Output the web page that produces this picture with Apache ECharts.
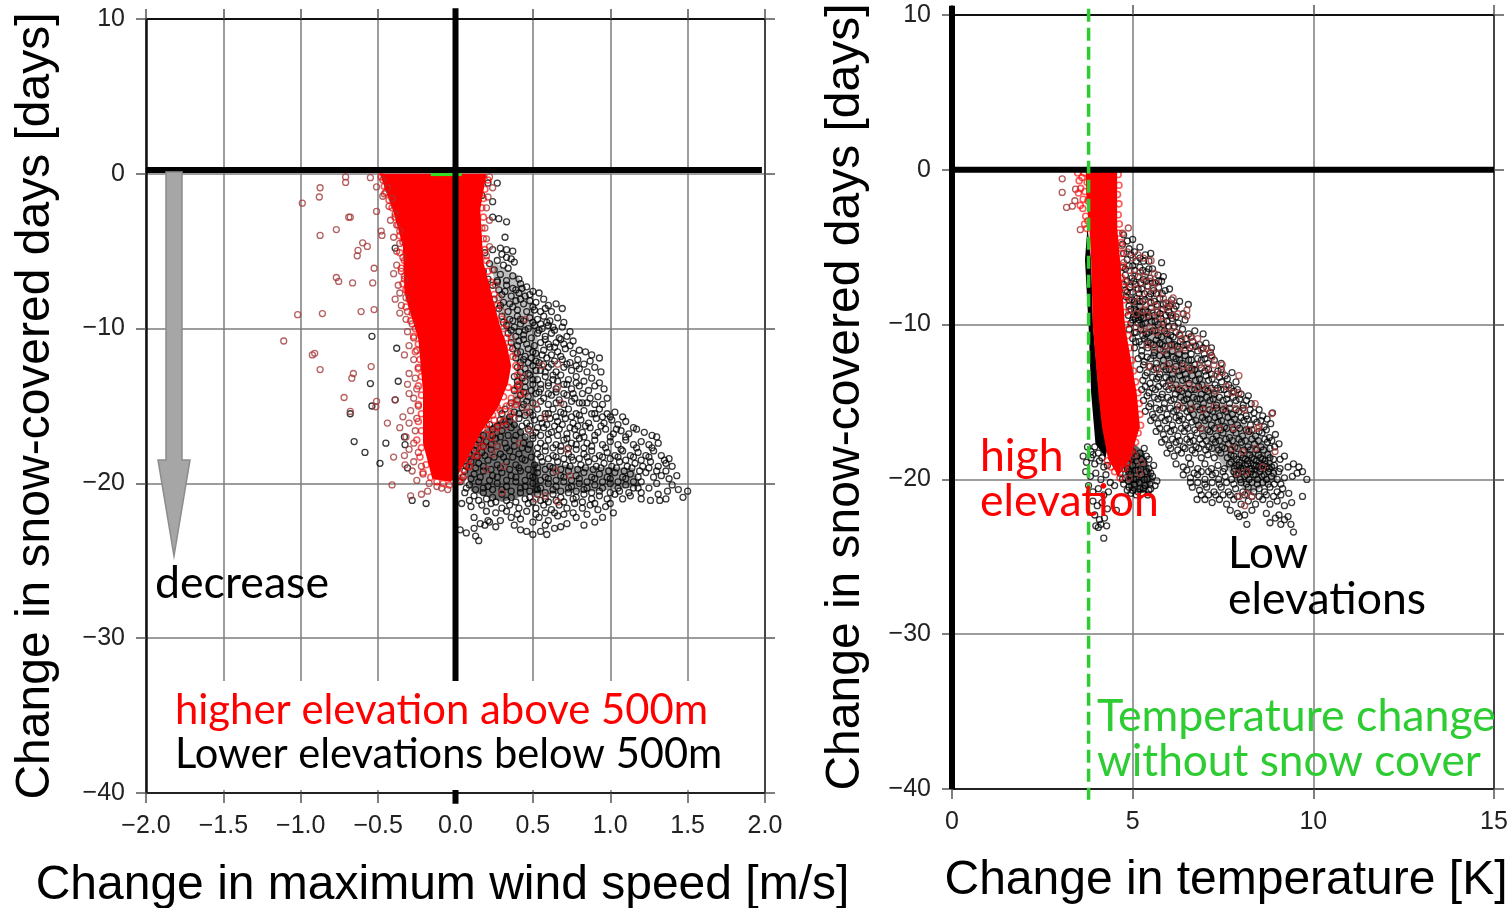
<!DOCTYPE html>
<html><head><meta charset="utf-8">
<style>html,body{margin:0;padding:0;background:#fff}#c{width:1512px;height:908px}</style>
<script src="https://cdn.jsdelivr.net/npm/echarts@6/dist/echarts.min.js"></script>
</head><body><div id="c"></div>
<script>
// flat lists: x,y,x,y,...
const windLowElev = [
.13,-.9,.15,-1.2,.12,-1.5,.17,-1.4,.21,-.6,.24,-1.8,.27,-.6,.33,-3.1,.24,-2.8,.28,-2.9,.32,-4.1,.37,-5.0,.29,-4.8,.33,-4.9,
.19,-5.1,.24,-4.9,.3,-5.2,.33,-5.4,.36,-5.5,.27,-5.6,.22,-5.8,.31,-5.9,.38,-5.7,.18,-6.3,.25,-6.2,.29,-6.5,.34,-6.1,.37,-6.6,.41,-6.8,.21,-6.8,.27,-6.9,.33,-6.9,
.24,-7.2,.28,-7.5,.33,-7.2,.37,-7.4,.42,-7.1,.46,-7.3,.5,-7.6,.54,-7.7,.3,-7.8,.36,-7.9,.41,-7.7,.45,-7.9,.25,-8.1,.31,-8.3,.35,-8.4,.39,-8.2,.44,-8.4,.48,-8.2,.52,-8.3,.57,-8.1,.6,-8.5,.65,-8.4,.69,-8.7,.28,-8.7,.34,-8.9,.4,-8.8,.46,-8.9,.51,-8.8,.55,-8.9,.62,-8.9,
.3,-9.2,.35,-9.4,.4,-9.2,.44,-9.5,.48,-9.3,.53,-9.4,.57,-9.2,.61,-9.5,.66,-9.3,.7,-9.6,.33,-9.8,.38,-9.9,.42,-9.7,.47,-10,.51,-9.8,.56,-10,.6,-9.8,.64,-10.1,.69,-9.9,.74,-10.2,.34,-10.3,.39,-10.5,.44,-10.4,.49,-10.6,.53,-10.3,.58,-10.5,.62,-10.3,.67,-10.6,.72,-10.5,.76,-10.8,.36,-10.9,.41,-10.8,.46,-11,.55,-10.9,.6,-11,.65,-10.9,.7,-11,.74,-11.1,
.37,-11.3,.42,-11.5,.47,-11.3,.52,-11.6,.57,-11.4,.61,-11.2,.66,-11.5,.71,-11.3,.76,-11.6,.8,-11.4,.84,-11.5,.88,-11.7,.93,-11.9,.39,-11.9,.44,-12,.49,-11.9,.54,-12.2,.59,-11.9,.64,-12.1,.69,-12,.74,-12.2,.79,-12,.83,-12.3,.87,-12.1,.4,-12.5,.45,-12.6,.5,-12.4,.55,-12.7,.6,-12.5,.65,-12.8,.7,-12.5,.75,-12.7,.8,-12.6,.85,-12.8,.9,-12.5,.94,-12.8,
.38,-13.1,.43,-13.2,.48,-13,.53,-13.3,.58,-13.1,.63,-13.3,.68,-13,.73,-13.3,.78,-13.1,.83,-13.4,.88,-13.2,.93,-13.5,.96,-13.9,.4,-13.7,.45,-13.8,.5,-13.6,.55,-13.9,.6,-13.7,.65,-13.9,.7,-13.6,.75,-13.9,.8,-13.7,.86,-14,.9,-13.7,.42,-14.3,.47,-14.4,.52,-14.2,.57,-14.5,.62,-14.3,.67,-14.6,.72,-14.3,.77,-14.5,.82,-14.2,.87,-14.5,.92,-14.4,.98,-14.5,.36,-14.8,.44,-14.9,.5,-14.8,.6,-14.9,.7,-14.9,.8,-14.8,.9,-14.9,
.32,-15.2,.38,-15.4,.43,-15.1,.48,-15.4,.53,-15.2,.58,-15.5,.63,-15.2,.68,-15.4,.73,-15.2,.78,-15.5,.83,-15.3,.88,-15.5,.93,-15.2,.98,-15.5,1.03,-15.4,1.08,-15.7,.29,-15.9,.35,-16,.41,-15.8,.46,-16.1,.51,-15.9,.56,-16.1,.61,-15.8,.66,-16,.71,-15.8,.76,-16.1,.81,-15.9,.86,-16.1,.91,-15.8,.96,-16.1,1.01,-15.9,1.05,-16.2,1.1,-16,
.24,-16.5,.3,-16.6,.36,-16.4,.42,-16.7,.47,-16.5,.52,-16.7,.57,-16.4,.62,-16.7,.67,-16.5,.72,-16.8,.77,-16.5,.82,-16.7,.87,-16.4,.92,-16.7,.97,-16.5,1.02,-16.8,1.07,-16.6,1.12,-16.8,1.17,-16.5,1.22,-16.7,1.27,-16.9,1.3,-17,
.15,-17.2,.2,-17.3,.26,-17.1,.32,-17.4,.38,-17.2,.44,-17.4,.5,-17.1,.55,-17.4,.6,-17.2,.65,-17.5,.7,-17.2,.75,-17.4,.8,-17.1,.85,-17.4,.9,-17.2,.95,-17.5,1,-17.3,1.05,-17.5,1.1,-17.2,1.15,-17.5,1.2,-17.3,1.25,-17.5,1.31,-17.4,
.12,-17.9,.17,-18,.23,-17.8,.29,-18.1,.35,-17.9,.41,-18.1,.47,-17.8,.53,-18.1,.58,-17.9,.63,-18.2,.68,-17.9,.73,-18.1,.78,-17.8,.83,-18.1,.88,-17.9,.93,-18.2,.98,-18,1.03,-18.2,1.08,-17.9,1.13,-18.2,1.18,-18,1.23,-18.2,1.28,-17.9,1.33,-18.2,1.38,-18.4,
.1,-18.6,.15,-18.7,.21,-18.5,.27,-18.8,.33,-18.6,.39,-18.8,.45,-18.5,.51,-18.8,.56,-18.6,.61,-18.9,.66,-18.6,.71,-18.8,.76,-18.5,.81,-18.8,.86,-18.6,.91,-18.9,.96,-18.7,1.01,-18.9,1.06,-18.6,1.11,-18.9,1.16,-18.7,1.21,-18.9,1.26,-18.6,1.31,-18.9,1.36,-18.7,1.4,-18.9,
.06,-19.2,.12,-19.4,.18,-19.2,.24,-19.5,.3,-19.3,.36,-19.5,.42,-19.2,.48,-19.5,.53,-19.3,.58,-19.6,.63,-19.3,.68,-19.5,.73,-19.2,.78,-19.5,.83,-19.3,.88,-19.6,.93,-19.4,.98,-19.6,1.03,-19.3,1.08,-19.6,1.13,-19.4,1.18,-19.6,1.23,-19.3,1.28,-19.6,1.33,-19.5,1.38,-19.7,1.43,-19.5,
.03,-19.9,.09,-20.1,.15,-19.9,.21,-20.2,.27,-20,.33,-20.2,.39,-19.9,.45,-20.2,.5,-20,.55,-20.3,.6,-20,.65,-20.2,.7,-19.9,.75,-20.2,.8,-20,.85,-20.3,.9,-20.1,.95,-20.3,1,-20,1.05,-20.3,1.1,-20.1,1.15,-20.3,1.2,-20.6,1.25,-20.3,1.31,-20.7,1.37,-20.5,1.44,-20.4,1.5,-20.5,1.47,-20.9,
.06,-20.6,.12,-20.8,.18,-20.6,.24,-20.9,.3,-20.7,.36,-20.9,.42,-20.6,.48,-20.9,.53,-20.7,.58,-21,.63,-20.7,.68,-20.9,.73,-20.6,.78,-20.9,.83,-20.7,.88,-21,.93,-20.8,.98,-21,1.03,-20.7,1.08,-21,1.13,-20.8,1.2,-21,1.26,-21.1,1.32,-21.1,1.36,-21,
.04,-21.3,.1,-21.5,.17,-21.4,.23,-21.3,.3,-21.6,.35,-21.4,.41,-21.6,.47,-21.3,.52,-21.6,.57,-21.4,.62,-21.7,.67,-21.4,.72,-21.6,.77,-21.3,.82,-21.6,.87,-21.4,.92,-21.7,.97,-21.5,1.02,-21.9,
.12,-22.2,.16,-22.6,.21,-22.4,.26,-22.8,.29,-22.4,.36,-22.2,.42,-22.3,.5,-22.5,.54,-22.2,.6,-22.4,.66,-22.1,.72,-22.6,.78,-22.2,.83,-22.7,.9,-22.5,.12,-22.9,.19,-22.7,.22,-22.5,
.03,-23,.07,-23.2,.13,-23.4,.15,-23.7,.42,-23,.46,-23.1,.5,-23.3,.55,-23.1,.59,-23.3,.64,-22.9,
-.54,-10.5,-.38,-11.27,-.55,-13.55,-.37,-13.4,-.39,-14.6,-.54,-15,-.68,-15.5,-.655,-17.3,-.45,-17.4,-.585,-18,-.488,-18.7,-.326,-17.5,-.33,-17,-.31,-19,-.28,-21.1,-.19,-21.3,-.39,-4.8
];
const windLowElevDense = [
.27,-7,.32,-7.6,.39,-7.5,.43,-7.4,.48,-7.8,.29,-8.5,.37,-8.6,.42,-8.1,.5,-8.6,.58,-8.7,.31,-9.6,.37,-9.5,.42,-9.4,.5,-9.6,.55,-9.7,.59,-9.6,.36,-10.1,.41,-10.2,.45,-10.1,.54,-10.1,.63,-9.9,.4,-11.1,.44,-10.7,.51,-11.1,.58,-10.7,.64,-11.2,.68,-10.7,.4,-11.6,.45,-11.8,.5,-11.5,.56,-11.7,.62,-11.7,.68,-11.8,.42,-12.2,.47,-12.2,.52,-12.1,.57,-12.3,.62,-12.3,.72,-12.3,.78,-12.4,.42,-12.8,.47,-12.9,.52,-12.7,.58,-12.8,.63,-13,.4,-13.4,.45,-13.4,.5,-13.3,.55,-13.6,.6,-13.5,.66,-13.4,.72,-13.6,.78,-13.5,.38,-14,.44,-14.1,.49,-14,.54,-14.1,.6,-14.2,.65,-14.1,.7,-14.2,.76,-14.2,.82,-14.8,.4,-14.6,.46,-14.7,.55,-14.7,.65,-14.8,.75,-14.7,.85,-14.8,.95,-14.9,
.3,-15.5,.35,-15.7,.41,-15.5,.45,-15.6,.5,-15.6,.55,-15.8,.6,-15.5,.65,-15.7,.7,-15.5,.75,-15.7,.8,-15.6,.9,-15.5,.95,-15.7,1,-15.7,.22,-16.2,.27,-16.3,.33,-16.2,.38,-16.2,.43,-16.3,.48,-16.3,.53,-16.4,.59,-16.2,.64,-16.3,.69,-16.2,.74,-16.4,.79,-16.3,.84,-16.3,.94,-16.3,1.04,-16.5,1.15,-16.4,.18,-16.9,.24,-16.9,.29,-17,.34,-16.9,.39,-16.9,.45,-17,.5,-16.9,.55,-16.9,.6,-16.8,.66,-16.9,.72,-17.1,.78,-16.9,.83,-17,.9,-16.9,1,-17,1.1,-17,.13,-17.5,.18,-17.6,.23,-17.5,.27,-17.6,.33,-17.7,.38,-17.6,.43,-17.7,.48,-17.5,.53,-17.7,.58,-17.6,.63,-17.7,.68,-17.6,.73,-17.7,.78,-17.5,.83,-17.7,.88,-17.6,.97,-17.7,1.07,-17.8,1.17,-17.7,1.27,-17.7,
.09,-18.1,.14,-18.3,.19,-18.2,.25,-18.3,.31,-18.3,.37,-18.3,.43,-18.4,.49,-18.3,.55,-18.3,.6,-18.4,.65,-18.3,.7,-18.4,.75,-18.3,.8,-18.4,.85,-18.3,.9,-18.4,.95,-18.3,1,-18.4,1.05,-18.3,1.1,-18.5,1.15,-18.3,1.2,-18.5,1.25,-18.3,1.35,-18.5,
.07,-18.9,.13,-19,.18,-18.9,.23,-19.1,.29,-19,.35,-19.1,.41,-19,.47,-19.1,.53,-19,.58,-19.1,.63,-19,.68,-19.1,.74,-18.9,.79,-19.1,.84,-19,.89,-19.1,.94,-19,.99,-19.2,1.04,-19,1.09,-19.2,1.14,-19,1.19,-19.2,1.25,-19,1.3,-19.2,1.36,-19.2,
.05,-19.6,.1,-19.7,.16,-19.6,.22,-19.8,.27,-19.6,.33,-19.8,.39,-19.6,.45,-19.8,.5,-19.6,.55,-19.8,.6,-19.7,.65,-19.8,.7,-19.6,.75,-19.8,.8,-19.7,.85,-19.9,.9,-19.7,.95,-19.9,1,-19.7,1.05,-19.9,1.1,-19.7,1.15,-19.9,1.2,-19.9,1.3,-20,1.4,-20.1,
.07,-20.3,.13,-20.4,.18,-20.3,.24,-20.4,.3,-20.4,.36,-20.5,.42,-20.3,.48,-20.5,.53,-20.4,.58,-20.6,.63,-20.4,.68,-20.5,.73,-20.3,.78,-20.5,.83,-20.4,.88,-20.6,.93,-20.5,1,-20.6,1.06,-20.5,1.12,-20.6,1.18,-20.3,
.09,-21.1,.15,-21.1,.2,-21,.26,-21.2,.33,-21.1,.39,-21.2,.45,-21,.5,-21.2,.55,-21.1,.6,-21.2,.65,-21.1,.7,-21.2,.76,-21,.82,-21.2,.9,-21.3,1,-21.3,.2,-21.8,.26,-21.9,.33,-21.8,.4,-22,.46,-21.8,.52,-22,.58,-21.9,.64,-21.9,.7,-22,.76,-21.9,.85,-22,.95,-22.2,.58,-22.7,.68,-22.8,.38,-22.7
];
const windRedEdge = [
-.48,-.2,-.46,-.8,-.45,-1.2,-.43,-1.7,-.41,-2.2,-.39,-2.8,-.37,-3.3,-.36,-4,-.34,-4.4,-.36,-5.1,-.33,-5.6,-.35,-6.1,-.33,-6.6,-.34,-7.1,-.32,-7.5,-.3,-8.1,-.32,-8.6,-.28,-9,-.29,-9.5,-.26,-10,-.27,-10.5,-.24,-11,-.26,-11.5,-.23,-12,-.24,-12.6,-.22,-13.1,-.24,-13.7,-.22,-14.3,-.24,-14.9,-.22,-15.5,-.24,-16,-.22,-16.6,-.25,-17.2,-.22,-17.7,-.23,-18.3,-.19,-18.8,-.21,-19.3,-.16,-19.6,-.12,-19.9,-.08,-20,-.04,-20.1,.02,-19.8,
.21,-.4,.19,-1,.18,-1.6,.17,-2.2,.18,-2.8,.17,-3.5,.18,-4.2,.19,-4.9,.2,-5.6,.21,-6.3,.23,-7,.25,-7.8,.27,-8.5,.3,-9.4,.31,-10,.33,-10.6,.35,-11.2,.37,-11.8,.39,-12.4,.4,-13,.41,-13.6,.38,-13.9,.42,-14.2,.36,-14.5,.39,-14.9,.33,-15,.36,-15.5,.29,-15.3,.31,-16,.25,-15.9,.27,-16.4,.21,-16.5,.23,-17,.16,-17.1,.18,-17.6,.13,-17.7,.14,-18.2,.09,-18.4,.09,-18.9,.05,-19.1,.04,-19.6,
.34,-13.8,.31,-14.4,.27,-15.1,.24,-15.6,.2,-16.2
];
const windHighElev = [
-.71,-.2,-.71,-.56,-.875,-.9,-.88,-1.5,-.99,-1.9,-.55,-.25,-.51,-.85,-.47,-1.45,-.69,-2.8,-.68,-2.8,-.51,-2.43,-.77,-3.6,-.875,-3.98,-.48,-3.7,-.475,-3.98,-.6,-4.46,-.57,-4.69,-.63,-4.95,-.635,-5.3,-.526,-6.1,-.77,-6.7,-.755,-6.95,-.665,-7.05,-.535,-7.05,-.4,-6.45,-1.02,-9.1,-.86,-9.03,-.61,-8.9,-.526,-8.77,-1.11,-10.8,-.925,-11.7,-.91,-11.6,-.875,-12.65,-.66,-12.9,-.67,-13.2,-.545,-12.45,-.72,-14.45,-.51,-14.7,-.515,-15.05,-.68,-15.35,-.39,-14.6,-.44,-16.1,-.4,-18.3,-.326,-18.8,-.41,-20.1,-.29,-20.8,
-.47,-.4,-.44,-.9,-.46,-1.3,-.41,-1.6,-.43,-2.1,-.39,-2.6,-.42,-3,-.38,-3.3,-.36,-3.7,-.4,-4.1,-.36,-4.5,-.38,-5,-.34,-5.4,-.38,-5.9,-.35,-6.3,-.33,-6.8,-.37,-7.2,-.36,-7.7,-.32,-8,-.39,-8.1,-.35,-8.5,-.31,-8.9,-.36,-9,-.32,-9.4,-.28,-9.7,-.31,-10.2,-.27,-10.6,-.3,-11.1,-.25,-11.4,-.33,-11.7,-.27,-12,-.24,-12.5,-.3,-12.9,-.26,-13.2,-.31,-13.6,-.25,-13.9,-.3,-14.2,-.27,-14.5,-.24,-15,-.29,-15.3,-.34,-15.7,-.25,-15.8,-.3,-16.1,-.36,-16.4,-.26,-16.6,-.32,-17,-.27,-17.4,-.3,-17.8,-.24,-18,-.33,-18.2,-.27,-18.6,-.22,-18.9,-.28,-19.2,-.21,-19.4,-.25,-19.8,-.17,-20,-.12,-20.2,-.18,-20.5,-.22,-20.7,-.09,-20.3,-.05,-20.4,
.22,-.2,.24,-.9,.21,-1.5,.2,-2.2,.22,-3,.19,-3.5,.2,-4.2,.22,-4.7,.2,-5.3,.24,-6.2,.26,-7.2,.28,-8,.3,-8.9,.33,-9.7,.36,-10.6,.39,-11.6,.42,-12.4,.44,-13.1,.41,-13.7,.45,-14.2,.4,-14.7,.35,-15,.46,-15.1,.38,-15.8,.3,-15.6,.33,-16.3,.26,-16.6,.2,-16.9,.24,-17.4,.16,-17.6,.13,-18.2,.09,-18.9,.06,-19.5,.04,-19.8,
.46,-15.4,.52,-14.9,.58,-15.7,.66,-13.8,.68,-14.8,.56,-12.4,.66,-12.3,.45,-9.4,.31,-18.9,.27,-17.6,.41,-17.4,.48,-16.6,.72,-17.8,.65,-19.2,.52,-21,.74,-19.5,.3,-20.6,.2,-19.1,.24,-18.1,.58,-20.8,.66,-21.2
];
const tempLowElev = [
4.75,-4.2,4.85,-4.6,5,-4.5,4.9,-5.1,5.05,-5.3,4.75,-5.4,5.2,-5,5.35,-5.5,5.5,-5.4,4.85,-5.8,5.1,-5.9,5.3,-5.9,5.45,-5.9,5.8,-6,
4.72,-6.3,4.9,-6.2,5.05,-6.5,5.2,-6.3,5.38,-6.6,5.55,-6.4,5.7,-6.8,5.85,-6.9,4.8,-6.8,4.98,-7,5.15,-6.9,5.3,-7.1,5.48,-7,5.62,-7.3,5.8,-7.2,4.75,-7.4,4.92,-7.6,5.08,-7.4,5.25,-7.7,5.42,-7.5,5.58,-7.8,5.72,-7.6,5.9,-7.8,6.02,-7.7,4.85,-7.9,5.18,-8,
4.82,-8.2,4.98,-8.4,5.12,-8.3,5.28,-8.5,5.45,-8.2,5.6,-8.5,5.75,-8.3,5.92,-8.6,6.08,-8.4,6.3,-8.5,6.54,-8.7,4.9,-8.8,5.05,-9,5.2,-8.8,5.35,-9.1,5.52,-8.9,5.68,-9.2,5.84,-9,6,-9.2,6.15,-9,6.4,-9.3,4.88,-9.4,5.02,-9.5,5.13,-9.4,5.22,-9.5,5.08,-9.6,5.3,-9.6,5.45,-9.5,5.62,-9.8,5.78,-9.6,5.95,-9.8,6.1,-9.6,6.26,-9.9,6.45,-9.7,4.95,-9.9,5.15,-9.9,5.25,-10,
4.9,-10.3,5.05,-10.5,5.22,-10.3,5.38,-10.6,5.55,-10.4,5.7,-10.7,5.88,-10.4,6.05,-10.7,6.2,-10.5,6.38,-10.3,6.55,-10.6,6.72,-10.4,6.95,-10.6,5,-10.9,5.18,-11.1,5.33,-10.9,5.5,-11.2,5.65,-11,5.82,-11.3,6,-11,6.16,-11.3,6.32,-11.1,6.5,-11.3,6.66,-11.1,6.85,-11.3,7.03,-11.2,7.18,-11.5,5.05,-11.5,5.25,-11.7,5.42,-11.5,5.6,-11.8,5.76,-11.6,5.94,-11.9,6.1,-11.7,6.28,-11.9,6.45,-11.7,6.62,-11.9,6.8,-11.7,6.98,-11.9,7.15,-11.8,
5.15,-12.2,5.32,-12.4,5.5,-12.2,5.66,-12.5,5.85,-12.3,6.02,-12.5,6.2,-12.2,6.37,-12.5,6.55,-12.3,6.72,-12.6,6.9,-12.3,7.08,-12.5,7.26,-12.3,7.45,-12.5,5.2,-12.9,5.4,-13.1,5.58,-12.9,5.75,-13.2,5.92,-12.9,6.1,-13.2,6.28,-13,6.46,-13.2,6.64,-12.9,6.82,-13.2,7,-13,7.18,-13.2,7.36,-13,7.56,-13.3,7.75,-13.1,5.28,-13.6,5.48,-13.8,5.66,-13.5,5.84,-13.8,6.02,-13.6,6.2,-13.9,6.38,-13.6,6.56,-13.8,6.74,-13.6,6.92,-13.9,7.1,-13.6,7.28,-13.9,7.46,-13.7,7.66,-13.9,7.86,-13.7,
5.25,-14.2,5.45,-14.4,5.63,-14.2,5.82,-14.5,6,-14.2,6.18,-14.5,6.36,-14.3,6.54,-14.5,6.72,-14.2,6.9,-14.5,7.08,-14.3,7.26,-14.5,7.44,-14.2,7.62,-14.5,7.8,-14.3,8,-14.5,8.2,-14.6,5.3,-14.9,5.5,-15.1,5.7,-14.8,5.88,-15.1,6.06,-14.9,6.24,-15.2,6.42,-14.9,6.6,-15.1,6.78,-14.8,6.96,-15.1,7.14,-14.9,7.32,-15.2,7.5,-14.9,7.68,-15.1,7.86,-14.9,8.06,-15.2,8.28,-15.1,5.35,-15.6,5.55,-15.8,5.75,-15.5,5.95,-15.8,6.13,-15.6,6.3,-15.9,6.5,-15.6,6.68,-15.8,6.86,-15.5,7.04,-15.8,7.22,-15.6,7.4,-15.9,7.58,-15.6,7.76,-15.8,7.94,-15.6,8.14,-15.9,8.36,-15.7,8.6,-15.9,8.87,-15.7,
5.5,-16.2,5.7,-16.4,5.9,-16.2,6.1,-16.5,6.28,-16.2,6.46,-16.5,6.64,-16.3,6.82,-16.5,7,-16.2,7.18,-16.5,7.36,-16.3,7.54,-16.6,7.72,-16.3,7.9,-16.5,8.08,-16.2,8.26,-16.5,8.44,-16.3,8.64,-16.6,8.82,-16.4,5.65,-16.9,5.85,-17.1,6.05,-16.9,6.25,-17.2,6.43,-16.9,6.6,-17.2,6.78,-17,6.96,-17.2,7.14,-16.9,7.32,-17.2,7.5,-17,7.68,-17.3,7.86,-17,8.04,-17.2,8.22,-16.9,8.4,-17.2,8.58,-17,8.78,-17.3,8.95,-17.1,5.8,-17.6,6,-17.8,6.2,-17.6,6.4,-17.9,6.58,-17.6,6.75,-17.9,6.93,-17.7,7.11,-17.9,7.29,-17.6,7.47,-17.9,7.65,-17.7,7.83,-17.9,8.01,-17.6,8.19,-17.9,8.37,-17.7,8.55,-17.9,8.73,-17.6,8.93,-17.9,9.05,-17.7,
5.95,-18.3,6.15,-18.5,6.35,-18.3,6.55,-18.6,6.73,-18.3,6.9,-18.6,7.08,-18.4,7.26,-18.6,7.44,-18.3,7.62,-18.6,7.72,-18.4,7.88,-18.7,8,-18.4,8.12,-18.7,8.24,-18.4,8.36,-18.7,8.48,-18.4,8.6,-18.7,8.74,-18.4,8.9,-18.7,9.08,-18.7,9.2,-18.5,6.2,-19,6.4,-19.2,6.6,-19,6.8,-19.3,7,-19,7.18,-19.3,7.36,-19.1,7.54,-19.3,7.68,-19,7.82,-19.3,7.94,-19.1,8.06,-19.3,8.18,-19,8.3,-19.3,8.42,-19.1,8.54,-19.3,8.66,-19,8.78,-19.3,8.92,-19.1,9.08,-19.3,9.3,-19.2,9.45,-19,9.6,-19.2,9.7,-19.5,9.55,-19.6,9.82,-20,
6.4,-19.7,6.6,-19.9,6.8,-19.7,7,-20,7.2,-19.7,7.38,-20,7.56,-19.8,7.74,-20,7.86,-19.7,7.98,-20,8.1,-19.8,8.22,-20,8.34,-19.7,8.46,-20,8.58,-19.8,8.7,-20,8.84,-19.8,9,-20,9.2,-19.9,9.42,-19.8,6.65,-20.5,6.85,-20.7,7.05,-20.5,7.25,-20.8,7.45,-20.5,7.65,-20.8,7.85,-20.6,8.05,-20.8,8.2,-20.5,8.35,-20.8,8.5,-20.6,8.65,-20.8,8.8,-20.5,9,-20.8,9.15,-20.6,9.32,-20.9,9.7,-21.1,6.78,-21.3,7,-21.3,7.2,-21.5,7.4,-21.3,7.6,-21.6,7.8,-21.3,8,-21.6,8.2,-21.4,8.4,-21.6,8.6,-21.3,8.8,-21.6,9,-21.4,9.2,-21.7,9.4,-21.5,
7.7,-22,7.9,-22.2,8.1,-22.3,8.3,-22,8.7,-22.2,8.95,-22.5,9.05,-22.3,9.2,-22.6,9.3,-22.4,9.38,-22.9,9.45,-23.4,8.16,-22.9,7.95,-22.4,8.8,-22.8,9.1,-22.9,
4.6,-18.4,4.75,-18,4.9,-18.6,5,-18.2,5.1,-18.8,5.2,-18.3,5.32,-18,5.45,-18.7,4.7,-19,4.85,-19.3,5,-19.1,5.15,-19.4,5.3,-19,5.45,-19.3,5.58,-19.1,4.65,-19.6,4.8,-19.9,4.95,-19.7,5.1,-20,5.25,-19.7,5.4,-20,5.55,-19.8,5.67,-20.1,4.75,-20.3,4.9,-20.5,5.05,-20.3,5.2,-20.6,5.35,-20.4,5.5,-20.6,5.62,-20.4,4.95,-20.9,5.1,-21,5.28,-20.9,5.42,-21,
3.63,-18.5,3.72,-18.9,3.85,-18.6,3.95,-19,4.08,-18.8,4.2,-19.2,3.7,-19.5,3.83,-19.8,3.98,-19.6,4.12,-20,4.26,-19.7,4.38,-20.2,3.78,-20.4,3.9,-20.8,4.05,-20.6,4.2,-21,4.33,-20.8,4.5,-20.4,3.9,-21.4,4.02,-21.7,4.15,-21.5,4.3,-21.9,4.55,-22,3.95,-22.3,4.08,-22.6,4.22,-22.5,3.98,-23,4.05,-23.1,4.12,-22.9,4.28,-23,4.2,-23.8
];
const tempLowElevDense = [
4.72,-4.8,4.95,-5.5,5.2,-5.7,4.8,-6.4,5,-6.2,5.28,-6.5,5.45,-6.4,4.85,-7.2,5.03,-7.2,5.22,-7.3,5.38,-7.2,5.55,-7.3,5.72,-7.2,4.8,-7.8,5,-7.9,5.15,-7.7,5.32,-8,5.5,-8,5.65,-8,5.82,-8,4.9,-8.4,5.05,-8.5,5.2,-8.5,5.35,-8.4,5.5,-8.6,5.68,-8.7,5.85,-8.7,6.02,-8.8,6.2,-8.8,
4.95,-9,5.1,-9.1,5.15,-9.2,5.28,-9.2,5.42,-9.2,5.6,-9.4,5.76,-9.3,5.92,-9.4,6.05,-9.4,6.2,-9.5,5,-9.7,5.18,-9.7,5.35,-9.9,5.52,-9.8,5.7,-10,5.85,-10,6,-10.1,6.15,-10.1,5.1,-10.5,5.28,-10.7,5.45,-10.5,5.62,-10.4,5.8,-10.8,5.95,-10.6,6.12,-10.8,6.3,-10.7,6.48,-10.9,6.62,-10.8,5.08,-11.1,5.25,-11.3,5.42,-11.1,5.58,-11.3,5.75,-11.2,5.9,-11.4,6.08,-11.3,6.24,-11.4,6.4,-11.3,6.58,-11.5,6.75,-11.4,6.95,-11.5,
5.25,-12,5.4,-12.1,5.58,-12,5.75,-12,5.95,-12,6.12,-12.1,6.3,-12.3,6.45,-12,6.62,-12.3,6.8,-12.2,7,-12.2,7.18,-12,5.3,-12.6,5.48,-12.7,5.65,-12.8,5.85,-12.7,6.02,-12.9,6.2,-12.7,6.38,-12.9,6.55,-12.8,6.72,-12.9,6.9,-12.8,7.1,-12.9,7.45,-12.9,5.35,-13.3,5.55,-13.4,5.72,-13.4,5.92,-13.4,6.1,-13.5,6.3,-13.3,6.48,-13.5,6.65,-13.3,6.85,-13.5,7.03,-13.3,7.2,-13.5,7.4,-13.4,7.62,-13.5,
5.35,-14,5.55,-14.1,5.72,-14,5.92,-14,6.1,-14.1,6.28,-14.2,6.45,-14.1,6.63,-14.2,6.82,-14,7,-14.2,7.18,-14.1,7.35,-14.1,7.53,-14.2,7.72,-14.1,7.9,-14.2,5.4,-14.6,5.6,-14.7,5.8,-14.7,5.97,-14.7,6.15,-14.8,6.33,-14.7,6.5,-14.8,6.68,-14.7,6.87,-14.8,7.05,-14.7,7.23,-14.8,7.4,-14.7,7.6,-14.8,7.78,-14.7,7.96,-14.8,8.15,-14.9,5.45,-15.3,5.65,-15.4,5.85,-15.4,6.04,-15.4,6.22,-15.5,6.4,-15.4,6.6,-15.5,6.78,-15.3,6.95,-15.4,7.13,-15.5,7.32,-15.4,7.5,-15.5,7.68,-15.4,7.86,-15.5,8.05,-15.4,8.25,-15.5,8.5,-15.5,
5.6,-16,5.8,-16,6,-16.1,6.2,-16,6.38,-16.1,6.56,-16,6.75,-16.2,6.93,-16,7.1,-16.1,7.28,-16,7.46,-16.2,7.64,-16,7.82,-16.1,8,-16,8.18,-16.1,8.36,-16.1,8.55,-16.2,8.72,-16.1,5.75,-16.7,5.95,-16.7,6.15,-16.8,6.35,-16.7,6.53,-16.7,6.72,-16.8,6.9,-16.7,7.08,-16.8,7.26,-16.7,7.44,-16.8,7.6,-16.7,7.78,-16.8,7.96,-16.7,8.14,-16.8,8.3,-16.8,8.5,-16.9,8.7,-16.8,5.9,-17.4,6.1,-17.4,6.3,-17.5,6.5,-17.4,6.68,-17.5,6.86,-17.4,7.04,-17.5,7.22,-17.4,7.4,-17.5,7.58,-17.4,7.76,-17.5,7.94,-17.4,8.12,-17.5,8.3,-17.4,8.48,-17.5,8.66,-17.4,8.85,-17.5,
6.05,-18,6.25,-18.1,6.45,-18,6.65,-18.1,6.83,-18,7.02,-18.1,7.2,-18,7.38,-18.1,7.55,-18,7.72,-18.1,7.9,-18,8.08,-18.1,8.26,-18.1,8.44,-18.1,8.62,-18.1,8.8,-18,7.8,-18.5,7.95,-18.9,8.06,-18.6,8.18,-18.8,8.3,-18.6,8.42,-18.8,8.54,-18.6,8.66,-18.8,8.8,-18.6,7.72,-18.9,7.88,-19.1,8,-19.3,8.12,-19.1,8.24,-19.3,8.36,-19.1,8.48,-19.2,8.6,-19.1,8.72,-19.2,8.85,-19.2,7.8,-19.5,7.92,-19.6,8.04,-19.5,8.16,-19.7,8.28,-19.5,8.4,-19.7,8.52,-19.5,8.64,-19.7,8.76,-19.5,8.9,-19.6,9.04,-19.5,6.5,-19.4,6.7,-19.6,6.9,-19.5,7.1,-19.5,7.3,-19.6,7.5,-19.5,6.6,-20.2,6.8,-20.2,7,-20.3,7.2,-20.2,7.4,-20.3,7.6,-20.2,7.8,-20.3,8,-20.2,8.15,-20.3,8.3,-20.2,8.45,-20.3,8.6,-20.2,8.75,-20.3,8.92,-20.3,9.1,-20.3,6.9,-21,7.1,-21,7.3,-21,7.5,-21,7.7,-21,7.9,-21.1,8.1,-21,8.3,-21.1,8.5,-21.1,8.7,-21,8.9,-21.1,9.1,-21,
4.7,-18.7,4.82,-18.6,4.98,-18.7,5.12,-18.5,5.25,-18.7,5.38,-18.5,4.75,-19.3,4.9,-19.5,5.08,-19.4,5.22,-19.3,5.38,-19.5,5.5,-19.6,4.72,-20,4.88,-20.1,5.03,-20,5.18,-20.2,5.32,-20,5.48,-20.3,4.85,-20.7,5,-20.7,5.15,-20.8,5.3,-20.6,5.45,-20.7,
3.75,-17.9,3.85,-18.2,3.95,-17.9,4.05,-18.3,4.15,-18.6,3.9,-18.4,4.3,-19.1
];
const tempHighElev = [
3.05,-.58,3.05,-1.46,3.17,-2.43,3.33,-2.35,3.4,-2,3.42,-1.25,3.55,-3.87,
4.88,-3.76,4.72,-4.1,5.51,-5.87,5.6,-6.7,5.65,-7.3,6.12,-8.27,6.1,-8.7,5.99,-8.65,6.5,-9.07,6.5,-9.45,6.36,-10.9,7.14,-11.8,7.05,-11.55,7.48,-12.6,7.94,-13.3,7.48,-13.1,7.94,-14.4,8.39,-15.1,8.85,-15.75,8.5,-16.6,8.94,-18.2,
4.7,-4.9,4.85,-5.3,5,-5.7,5.15,-5.5,5.3,-5.7,4.75,-6,4.9,-6.5,5.05,-6.8,5.2,-6.6,5.35,-6.9,5.5,-7.2,4.8,-7.2,4.95,-7.4,5.1,-7.7,5.25,-7.3,5.4,-7.9,5.55,-7.6,5.7,-8,5.85,-8.3,4.85,-8.1,5,-8.5,5.2,-8.3,5.35,-8.7,5.5,-8.5,5.65,-8.8,5.8,-9.1,5.95,-8.9,4.9,-9.1,5.1,-9.3,5.27,-9.1,5.4,-9.4,5.55,-9.2,5.7,-9.5,5.85,-9.8,6.1,-9.4,6.25,-9.3,5.1,-10.2,5.3,-10.4,5.48,-10.2,5.65,-10.5,5.8,-10.2,5.95,-10.5,6.12,-10.2,6.3,-10.6,6.6,-10.8,6.8,-10.9,5.4,-11.3,5.6,-11.5,5.85,-11.7,6.05,-11.4,6.25,-11.6,6.45,-11.5,6.65,-11.4,6.9,-11.6,7.2,-12.1,5.45,-12.7,5.7,-12.9,5.95,-12.6,6.15,-12.9,6.4,-12.7,6.6,-12.9,6.85,-12.6,7.05,-12.8,7.25,-12.6,7.3,-13.2,6.05,-13.9,6.3,-14.1,6.55,-13.9,6.8,-14.1,7.05,-14.1,7.3,-14.3,7.6,-14,7.75,-14.4,6.3,-15.3,6.65,-15.4,6.95,-15.5,7.25,-15.3,7.55,-15.4,7.85,-15.4,8.1,-15.5,6.9,-16.7,7.4,-16.7,7.8,-16.7,8.2,-16.8,8.45,-16.7,7.75,-18,8.05,-18.2,8.4,-18,7.9,-19.6,8.15,-19.5,8.15,-20.9,8.3,-21.1,7.95,-21.1,8.6,-19.2,8.1,-21.7,
5.05,-18.4,5.2,-19.6,4.9,-19.9,5.25,-18.9,4.75,-19.3
];
const tempRedEdge = [
3.48,-.2,3.52,-.7,3.56,-1.2,3.5,-1.5,3.6,-.5,3.63,-1.9,3.55,-2.3,3.62,-2.5,3.68,-1.4,3.66,-.2,3.7,-3,3.67,-3.5,3.73,-3.8,3.74,-.8,3.76,-2,3.76,-3.3,
4.6,-.3,4.62,-1,4.58,-1.6,4.62,-2.2,4.6,-2.9,4.63,-3.5,4.62,-4.1,4.68,-4.7,4.68,-5.4,4.72,-6.2,4.7,-7,4.76,-7.6,4.77,-8.4,4.8,-9.2,4.84,-10,4.87,-10.7,4.92,-11.5,4.98,-12.3,5.02,-13,5.08,-13.7,5.15,-14.4,5.18,-15.1,5.2,-15.8,5.22,-16.5,5.15,-17,5.08,-17.6,4.98,-18.2,4.88,-18.9,4.78,-19.3,4.65,-19.9,4.5,-19.5,4.4,-19.2,4.3,-18.8
];
const windRedCore = [-.49,0,-.4,-2.5,-.34,-4.7,-.33,-7.7,-.24,-10.7,-.21,-14.1,-.21,-17.4,-.15,-19.7,-.03,-19.9,.02,-19.4,.07,-18.5,.16,-16.8,.28,-15,.34,-13.5,.36,-12.4,.33,-11,.29,-9.9,.18,-5.7,.16,-2.3,.2,0];
const windDarkPatchA = [.05,-18.5,.15,-16.8,.35,-15.5,.5,-17.5,.55,-20.5,.3,-21.2,.1,-20.5];
const windDarkPatchB = [.5,-18.6,.8,-18.9,1.15,-19,1.2,-20.2,.9,-20.5,.5,-20.8];
const windDarkPatchC = [.22,-5.6,.4,-6.5,.5,-8.5,.55,-12,.5,-16,.35,-15.5,.4,-12.5,.3,-9];
const tempRedCore = [3.7,0,3.72,-2,3.8,-3.7,3.85,-5.8,3.9,-10.1,4.05,-14.4,4.15,-16.6,4.32,-18.7,4.6,-19.8,4.93,-18.7,5.2,-16.6,5.11,-14.4,4.79,-10.1,4.65,-5.8,4.57,-3.7,4.57,0];
const tempBlackStrip = [3.75,-3.7,3.68,-5.8,3.78,-10.1,3.85,-14.4,3.97,-17.7,4.25,-18.6,4.3,-18,4.05,-14,3.9,-10,3.85,-5.8];
const tempDarkLobe = [4.65,-18.3,4.95,-17.5,5.3,-18.2,5.6,-20,5.3,-20.9,4.9,-20.7];
const tempDarkStreak = [5,-8.5,5.4,-8.8,6.5,-12,7.5,-15,8.8,-18,9,-20,8.2,-21,7.3,-18.5,6.2,-14.5,5.3,-11];
const windRefH = [[-2,.25],[1.98,.25]];
const windRefV = [[0,10.7],[0,-40.7]];
const windGreen = [[-.16,-.05],[.04,-.05]];
const tempRefH = [[0,0],[15,0]];
const tempRefV = [[0,10.6],[0,-40]];
const tempGreen = [[3.78,10.4],[3.78,-40.7]];

const pairs = a => { const r=[]; for(let i=0;i<a.length;i+=2) r.push([a[i],a[i+1]]); return r; };
const MINUS = v => String(v).replace('-', '\u2212');
const tickFont = {fontFamily:'Liberation Sans',fontSize:25,color:'#222'};
const nameFont = {fontFamily:'Liberation Sans',fontSize:48,color:'#000'};
const anno = 'Lato';
function rings(a,color,op,xi,z,w){return {type:'scatter',xAxisIndex:xi,yAxisIndex:xi,data:pairs(a),symbol:'circle',symbolSize:6,silent:true,z,
  itemStyle:{color:'rgba(0,0,0,0)',borderColor:color,borderWidth:w||1.3,opacity:op}};}
function poly(a,color,xi,z){return {type:'custom',xAxisIndex:xi,yAxisIndex:xi,data:pairs(a),silent:true,z,clip:false,encode:{x:0,y:1},
  renderItem:(p,api)=> p.dataIndex===0?{type:'polygon',shape:{points:pairs(a).map(d=>api.coord(d))},style:{fill:color}}:null};}
function seg(d,color,w,xi,z,dash){return {type:'line',xAxisIndex:xi,yAxisIndex:xi,data:d,showSymbol:false,symbol:'none',silent:true,clip:false,z,
  lineStyle:{color,width:w,type:dash||'solid',cap:'butt'}};}
const gridCol='#7d7d7d';
function xAx(g,min,max,iv,name,fmt,pad,gap){return {type:'value',gridIndex:g,position:'bottom',min,max,interval:iv,name,nameLocation:'middle',nameGap:gap,nameTextStyle:Object.assign({padding:pad},nameFont),
  axisLine:{show:true,onZero:false,lineStyle:{color:'#222',width:2}},axisTick:{show:true,length:10,lineStyle:{color:'#555',width:1.5}},
  axisLabel:Object.assign({margin:21,formatter:fmt,showMinLabel:true,showMaxLabel:true},tickFont),splitLine:{show:true,lineStyle:{color:gridCol,width:1.5}}};}
function xTop(g,min,max,iv){return {type:'value',gridIndex:g,position:'top',min,max,interval:iv,axisLine:{show:true,onZero:false,lineStyle:{color:'#111',width:2}},
  axisTick:{show:true,length:10,lineStyle:{color:'#555',width:1.5}},axisLabel:{show:false},splitLine:{show:false}};}
function yAx(g,name,gap,pad,lw){return {type:'value',gridIndex:g,position:'left',min:-40,max:10,interval:10,name,nameLocation:'middle',nameGap:gap,nameRotate:90,nameTextStyle:Object.assign({padding:pad},nameFont),
  axisLine:{show:true,onZero:false,lineStyle:{color:'#111',width:lw}},axisTick:{show:true,length:10,lineStyle:{color:'#555',width:1.5}},
  axisLabel:Object.assign({margin:21,padding:[3,0,0,0],formatter:MINUS,showMinLabel:true,showMaxLabel:true},tickFont),splitLine:{show:true,lineStyle:{color:gridCol,width:1.5}}};}
function yRight(g){return {type:'value',gridIndex:g,position:'right',min:-40,max:10,interval:10,axisLine:{show:true,onZero:false,lineStyle:{color:'#444',width:2}},
  axisTick:{show:true,length:10,lineStyle:{color:'#555',width:1.5}},axisLabel:{show:false},splitLine:{show:false}};}
function label(x,y,text,fill,size){return {type:'text',z:20,x,y,style:{text,fill,font:`${size}px ${anno}`,textVerticalAlign:'middle',textAlign:'left'}};}

const chart = echarts.init(document.getElementById('c'),null,{renderer:'canvas'});
chart.setOption({
  animation:false,backgroundColor:'#fff',tooltip:{show:false},
  grid:[{left:146,top:19,width:619,height:774,outerBoundsMode:'none'},{left:952,top:15,width:542,height:774,outerBoundsMode:'none'}],
  xAxis:[xAx(0,-2,2,.5,'Change in maximum wind speed [m/s]',v=>MINUS(v.toFixed(1)),[0,26,0,0],69),
         xAx(1,0,15,5,'Change in temperature [K]',v=>String(v),[0,0,0,6],68),
         xTop(0,-2,2,.5),xTop(1,0,15,5)],
  yAxis:[yAx(0,'Change in snow-covered days [days]',86,[0,0,0,0],2.5),
         yAx(1,'Change in snow-covered days [days]',82,[0,0,0,10],2),
         yRight(0),yRight(1)],
  series:[
    poly(windDarkPatchA,'rgba(0,0,0,.55)',0,2),
    poly(windDarkPatchB,'rgba(0,0,0,.38)',0,2),
    poly(windDarkPatchC,'rgba(0,0,0,.25)',0,2),
    rings(windLowElev,'#000',.78,0,3),
    rings(windLowElevDense,'#000',.78,0,3),
    poly(windRedCore,'#ff0000',0,5),
    rings(windHighElev,'#a33a3a',.8,0,5),
    rings(windRedEdge,'#ff0000',.65,0,6,1.6),
    seg(windGreen,'#33dd22',3,0,6),
    seg(windRefH,'#000',6,0,7),
    seg(windRefV,'#000',6,0,7),
    poly(tempDarkStreak,'rgba(0,0,0,.3)',1,2),
    poly(tempDarkLobe,'rgba(0,0,0,.6)',1,2),
    rings(tempLowElev,'#000',.78,1,3),
    rings(tempLowElevDense,'#000',.78,1,3),
    poly(tempBlackStrip,'#000',1,4),
    rings(tempHighElev,'#a33a3a',.85,1,5),
    poly(tempRedCore,'#ff0000',1,5),
    rings(tempRedEdge,'#ff0000',.65,1,6,1.6),
    seg(tempRefH,'#000',6,1,7),
    seg(tempRefV,'#000',6,1,7),
    seg(tempGreen,'#2ecc33',3.5,1,8,[13,6])
  ],
  graphic:[
    {type:'rect',z:10,shape:{x:148,y:681,width:615,height:109},style:{fill:'#fff'}},
    {type:'polygon',z:11,shape:{points:[[166,172],[182,172],[182,460],[190,460],[174,556],[158,460],[166,460]]},style:{fill:'#a6a6a6',stroke:'#8c8c8c',lineWidth:1.5}},
    label(155,584,'decrease','#000',44.7),
    label(175,711,'higher elevation above 500m','#f00',41.8),
    label(175,755,'Lower elevations below 500m','#000',41.6),
    label(980,457,'high','#f00',44.5),
    label(980,502,'elevation','#f00',44.5),
    label(1228,554,'Low','#000',44),
    label(1228,600,'elevations','#000',44.5),
    label(1097,717,'Temperature change','#2ecc33',44.7),
    label(1097,762,'without snow cover','#2ecc33',44.2)
  ]
});
</script></body></html>
